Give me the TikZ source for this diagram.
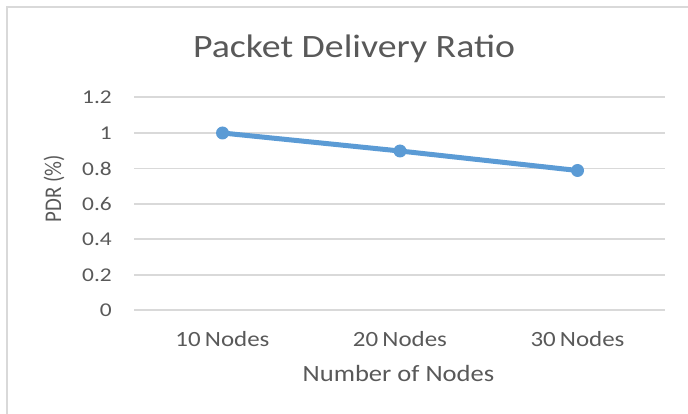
\documentclass[tikz,border=0pt]{standalone}
\usepackage{fontspec}
\setmainfont{Carlito}
\definecolor{xlblue}{HTML}{5B9BD5}
\definecolor{xlgrid}{HTML}{D9D9D9}
\definecolor{xltext}{HTML}{595959}
\newcommand{\widetext}[2][1.15]{\scalebox{#1}[1]{#2}}
\begin{document}
\begin{tikzpicture}[x=1pt,y=-1pt,
  gridline/.style={xlgrid,line width=1.6pt},
  ticklabel/.style={text=xltext,anchor=base east,inner sep=0pt,font=\fontsize{19.5}{22}\selectfont},
  catlabel/.style={text=xltext,anchor=base,inner sep=0pt,font=\fontsize{21.7}{24}\selectfont},
  axistitle/.style={text=xltext,anchor=base,inner sep=0pt},
  dataline/.style={xlblue,line width=5pt},
  datapoint/.style={fill=xlblue}]

\useasboundingbox (0,0) rectangle (688,414);

%% The chart frame
\draw [xlgrid,line width=2pt] (7,414) -- (7,7) -- (688,7);

%% The title
\node [text=xltext,anchor=base,inner sep=0pt,font=\fontsize{32.6}{35}\selectfont] (title) at (354,58) {\widetext[1.16]{Packet Delivery Ratio}};

%% The grid lines
\draw [gridline] (134,97) -- (665,97);
\draw [gridline] (134,133) -- (665,133);
\draw [gridline] (134,168.5) -- (665,168.5);
\draw [gridline] (134,204) -- (665,204);
\draw [gridline] (134,239) -- (665,239);
\draw [gridline] (134,275) -- (665,275);
\draw [gridline] (134,310) -- (665,310);

%% The vertical tick labels
\node [ticklabel] (t12) at (112,103.7) {\widetext[1.2]{1.2}};
\node [ticklabel] (t10) at (112,139.7) {\widetext[1.2]{1}};
\node [ticklabel] (t08) at (112,175.2) {\widetext[1.2]{0.8}};
\node [ticklabel] (t06) at (112,210.7) {\widetext[1.2]{0.6}};
\node [ticklabel] (t04) at (112,245.7) {\widetext[1.2]{0.4}};
\node [ticklabel] (t02) at (112,281.7) {\widetext[1.2]{0.2}};
\node [ticklabel] (t00) at (112,316.7) {\widetext[1.2]{0}};

%% The categories
\node [catlabel] (c10) at (222.5,346) {\widetext{10\,Nodes}};
\node [catlabel] (c20) at (400,346) {\widetext{20\,Nodes}};
\node [catlabel] (c30) at (577.5,346) {\widetext{30\,Nodes}};

%% The axis titles
\node [axistitle,font=\fontsize{23.3}{26}\selectfont] (xtitle) at (398.5,381.7) {\widetext[1.14]{Number of Nodes}};
\node [axistitle,font=\fontsize{20.8}{23}\selectfont,rotate=90] (ytitle) at (61,188.5) {\scalebox{1}[1.15]{PDR (\%)}};

%% The data
\coordinate (p10) at (222.5,133);
\coordinate (p20) at (400,151);
\coordinate (p30) at (577.5,170.5);
\draw [dataline] (p10) -- (p20) -- (p30);
\fill [datapoint] (p10) circle (6.5);
\fill [datapoint] (p20) circle (6.5);
\fill [datapoint] (p30) circle (6.5);

\end{tikzpicture}
\end{document}
